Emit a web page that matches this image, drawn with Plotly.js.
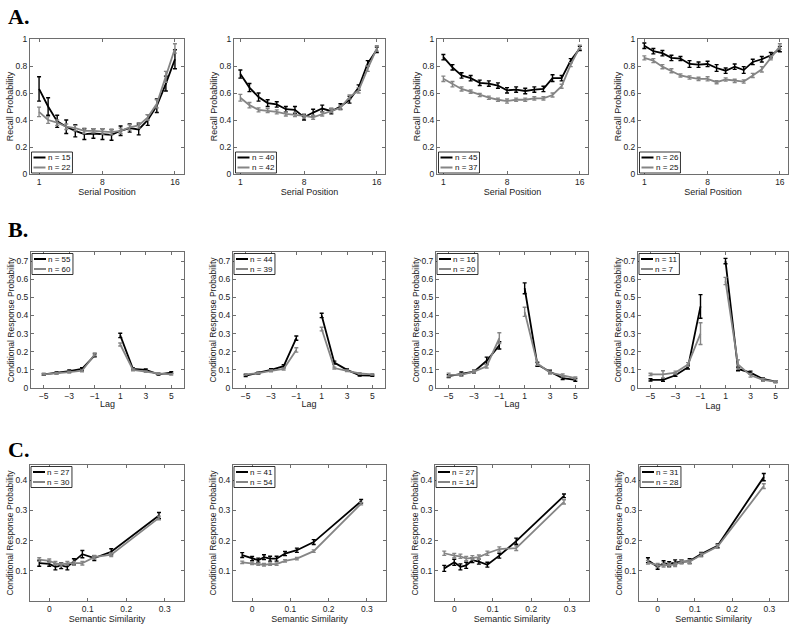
<!DOCTYPE html>
<html><head><meta charset="utf-8">
<script src="https://cdn.plot.ly/plotly-3.0.1.min.js"></script>
<style>html,body{margin:0;padding:0;background:#fff}#chart{width:800px;height:626px}</style>
</head><body><div id="chart"></div>
<script>
// ---------------- DATA ----------------
const serialPos = [1,2,3,4,5,6,7,8,9,10,11,12,13,14,15,16];
const lagVals = [-5,-4,-3,-2,-1,0,1,2,3,4,5];
const lagTickVals = [-5,-3,-1,1,3,5];
const lagTickText = ['\u22125','\u22123','\u22121','1','3','5'];
const semBins = [-0.026,0.0,0.016,0.031,0.047,0.064,0.086,0.117,0.161,0.285];

// Row A: serial position curves
const A1_black = [0.63,0.50,0.39,0.35,0.32,0.295,0.30,0.295,0.29,0.32,0.34,0.33,0.40,0.505,0.67,0.85];
const A1_blackErr = [0.09,0.065,0.045,0.05,0.045,0.04,0.035,0.04,0.04,0.035,0.03,0.04,0.04,0.05,0.055,0.07];
const A1_grey = [0.46,0.40,0.38,0.35,0.34,0.32,0.32,0.315,0.31,0.32,0.345,0.36,0.42,0.52,0.72,0.93];
const A1_greyErr = [0.035,0.025,0.02,0.02,0.02,0.02,0.015,0.02,0.02,0.02,0.02,0.02,0.02,0.03,0.04,0.035];

const A2_black = [0.74,0.64,0.57,0.525,0.515,0.48,0.475,0.42,0.455,0.485,0.465,0.50,0.55,0.64,0.82,0.92];
const A2_blackErr = [0.03,0.03,0.03,0.025,0.02,0.02,0.025,0.02,0.025,0.025,0.02,0.02,0.025,0.02,0.02,0.02];
const A2_grey = [0.565,0.51,0.475,0.47,0.46,0.445,0.44,0.43,0.42,0.445,0.47,0.49,0.57,0.62,0.78,0.93];
const A2_greyErr = [0.025,0.02,0.015,0.015,0.015,0.015,0.015,0.015,0.015,0.015,0.015,0.015,0.015,0.02,0.02,0.02];

const A3_black = [0.865,0.79,0.73,0.71,0.675,0.67,0.655,0.62,0.625,0.615,0.625,0.63,0.71,0.71,0.84,0.93];
const A3_blackErr = [0.02,0.02,0.02,0.02,0.02,0.02,0.02,0.02,0.02,0.02,0.02,0.02,0.025,0.02,0.015,0.015];
const A3_grey = [0.705,0.665,0.63,0.61,0.585,0.565,0.55,0.54,0.55,0.55,0.56,0.56,0.585,0.65,0.81,0.94];
const A3_greyErr = [0.02,0.02,0.015,0.012,0.012,0.012,0.012,0.015,0.012,0.012,0.012,0.012,0.015,0.015,0.015,0.015];

const A4_black = [0.95,0.91,0.895,0.86,0.855,0.815,0.81,0.815,0.785,0.765,0.795,0.77,0.83,0.85,0.88,0.925];
const A4_blackErr = [0.02,0.02,0.02,0.02,0.015,0.025,0.02,0.02,0.025,0.02,0.02,0.025,0.02,0.02,0.02,0.02];
const A4_grey = [0.86,0.84,0.795,0.765,0.73,0.715,0.705,0.705,0.68,0.70,0.69,0.685,0.73,0.775,0.86,0.945];
const A4_greyErr = [0.015,0.015,0.015,0.015,0.012,0.012,0.012,0.015,0.012,0.012,0.012,0.012,0.015,0.02,0.015,0.02];

// Row B: lag-CRP curves
const B1_black = [0.075,0.083,0.093,0.105,0.18,null,0.29,0.105,0.10,0.075,0.085];
const B1_blackErr = [0.005,0.005,0.006,0.007,0.008,null,0.012,0.006,0.005,0.004,0.005];
const B1_grey = [0.075,0.08,0.087,0.095,0.185,null,0.24,0.10,0.09,0.08,0.075];
const B1_greyErr = [0.004,0.004,0.005,0.005,0.008,null,0.008,0.005,0.004,0.004,0.004];

const B2_black = [0.068,0.082,0.10,0.12,0.275,null,0.40,0.14,0.10,0.07,0.068];
const B2_blackErr = [0.005,0.005,0.006,0.008,0.012,null,0.012,0.008,0.005,0.004,0.004];
const B2_grey = [0.075,0.082,0.095,0.105,0.21,null,0.325,0.11,0.095,0.08,0.075];
const B2_greyErr = [0.004,0.004,0.005,0.006,0.012,null,0.01,0.005,0.004,0.004,0.004];

const B3_black = [0.065,0.078,0.09,0.15,0.235,null,0.55,0.13,0.09,0.055,0.045];
const B3_blackErr = [0.008,0.01,0.008,0.02,0.02,null,0.03,0.01,0.008,0.008,0.008];
const B3_grey = [0.072,0.072,0.09,0.12,0.275,null,0.42,0.135,0.085,0.07,0.055];
const B3_greyErr = [0.01,0.008,0.008,0.01,0.03,null,0.025,0.01,0.008,0.008,0.006];

const B4_black = [0.045,0.045,0.07,0.115,0.45,null,0.70,0.105,0.085,0.05,0.035];
const B4_blackErr = [0.006,0.008,0.006,0.01,0.065,null,0.015,0.01,0.008,0.006,0.005];
const B4_grey = [0.075,0.075,0.085,0.13,0.30,null,0.59,0.13,0.07,0.045,0.035];
const B4_greyErr = [0.006,0.02,0.008,0.01,0.06,null,0.02,0.025,0.01,0.008,0.005];

// Row C: semantic-CRP curves
const C1_black = [0.125,0.123,0.113,0.117,0.113,0.13,0.155,0.142,0.163,0.283];
const C1_blackErr = [0.01,0.008,0.01,0.01,0.01,0.01,0.012,0.008,0.01,0.01];
const C1_grey = [0.137,0.133,0.125,0.12,0.125,0.125,0.125,0.145,0.153,0.275];
const C1_greyErr = [0.006,0.006,0.006,0.006,0.006,0.006,0.006,0.006,0.006,0.006];

const C2_black = [0.152,0.14,0.135,0.145,0.14,0.14,0.157,0.168,0.195,0.33];
const C2_blackErr = [0.008,0.007,0.007,0.008,0.008,0.008,0.007,0.007,0.008,0.006];
const C2_grey = [0.128,0.125,0.122,0.12,0.122,0.122,0.133,0.14,0.165,0.322];
const C2_greyErr = [0.004,0.004,0.004,0.004,0.004,0.004,0.004,0.004,0.004,0.004];

const C3_black = [0.108,0.128,0.113,0.118,0.135,0.13,0.12,0.15,0.198,0.348];
const C3_blackErr = [0.01,0.01,0.01,0.01,0.008,0.008,0.008,0.008,0.01,0.006];
const C3_grey = [0.158,0.15,0.148,0.14,0.143,0.145,0.158,0.172,0.175,0.328];
const C3_greyErr = [0.007,0.007,0.007,0.007,0.007,0.007,0.007,0.007,0.008,0.007];

const C4_black = [0.135,0.113,0.125,0.122,0.128,0.13,0.132,0.155,0.183,0.41];
const C4_blackErr = [0.008,0.008,0.008,0.008,0.008,0.006,0.008,0.006,0.006,0.012];
const C4_grey = [0.128,0.118,0.118,0.118,0.12,0.13,0.13,0.152,0.18,0.38];
const C4_greyErr = [0.006,0.006,0.006,0.006,0.006,0.006,0.006,0.006,0.006,0.008];

const nBlackA = ['n = 15','n = 40','n = 45','n = 26'];
const nGreyA  = ['n = 22','n = 42','n = 37','n = 25'];
const nBlackB = ['n = 55','n = 44','n = 16','n = 11'];
const nGreyB  = ['n = 60','n = 39','n = 20','n = 7'];
const nBlackC = ['n = 27','n = 41','n = 27','n = 31'];
const nGreyC  = ['n = 30','n = 54','n = 14','n = 28'];

const panelLabels = ['A.','B.','C.'];

// ---------------- LAYOUT GEOMETRY (pixels) ----------------
const W = 800, H = 626;
const colsA = [[30,184],[234,385],[437,588],[638,788]];
const colsB = [[31,184],[233,385],[436,588],[638,788]];
const colsC = [[30,184],[233,386],[435,589],[639,788]];
const rowsY = [[39,174],[252,388],[465,601]];

const BLACK = '#000000', GREY = '#858585';
const FONT = 'Liberation Sans, Arial, sans-serif';
const LEG_FONT = 8;

const rows = [
  {x: serialPos, cols: colsA,
   sets: [[A1_black,A1_blackErr,A1_grey,A1_greyErr],[A2_black,A2_blackErr,A2_grey,A2_greyErr],[A3_black,A3_blackErr,A3_grey,A3_greyErr],[A4_black,A4_blackErr,A4_grey,A4_greyErr]],
   nb: nBlackA, ng: nGreyA},
  {x: lagVals, cols: colsB,
   sets: [[B1_black,B1_blackErr,B1_grey,B1_greyErr],[B2_black,B2_blackErr,B2_grey,B2_greyErr],[B3_black,B3_blackErr,B3_grey,B3_greyErr],[B4_black,B4_blackErr,B4_grey,B4_greyErr]],
   nb: nBlackB, ng: nGreyB},
  {x: semBins, cols: colsC,
   sets: [[C1_black,C1_blackErr,C1_grey,C1_greyErr],[C2_black,C2_blackErr,C2_grey,C2_greyErr],[C3_black,C3_blackErr,C3_grey,C3_greyErr],[C4_black,C4_blackErr,C4_grey,C4_greyErr]],
   nb: nBlackC, ng: nGreyC}
];

const ctx = document.createElement('canvas').getContext('2d');
ctx.font = LEG_FONT + 'px "Liberation Sans"';
const textW = s => ctx.measureText(s).width;
const px = v => v / W;          // x pixel -> paper
const py = v => 1 - v / H;      // y pixel -> paper

const traces = [];
const shapes = [];
const annotations = [];
const layout = {
  width: W, height: H, margin: {l:0,r:0,t:0,b:0},
  paper_bgcolor: '#fff', plot_bgcolor: '#fff',
  font: {family: FONT, size: 9, color: '#222'},
  showlegend: false
};

const axBase = {
  showline: true, mirror: 'ticks', linecolor: '#6e6e6e', linewidth: 1,
  ticks: 'inside', ticklen: 3, tickwidth: 1, tickcolor: '#6e6e6e',
  showgrid: false, zeroline: false, automargin: false,
  tickfont: {family: FONT, size: 8.5, color: '#222'}
};
const titleFont = {family: FONT, size: 9, color: '#222'};

function addLegend(left, top, labels) {
  const w = 15.5 + Math.max(textW(labels[0]), textW(labels[1])) + 3;
  const h = 21;
  shapes.push({type: 'rect', xref: 'paper', yref: 'paper', x0: px(left), x1: px(left + w), y0: py(top), y1: py(top + h),
    fillcolor: '#fff', line: {color: '#000', width: 0.8}, layer: 'above'});
  [[labels[0], BLACK, top + 5.5], [labels[1], GREY, top + 15.5]].forEach(([lab, col, yy]) => {
    shapes.push({type: 'line', xref: 'paper', yref: 'paper', x0: px(left + 2), x1: px(left + 14), y0: py(yy), y1: py(yy),
      line: {color: col, width: 2}, layer: 'above'});
    annotations.push({text: lab, xref: 'paper', yref: 'paper', x: px(left + 15), y: py(yy), xanchor: 'left', yanchor: 'middle',
      showarrow: false, borderpad: 0, font: {family: FONT, size: LEG_FONT, color: '#111'}});
  });
}

let k = 0;
rows.forEach((row, r) => {
  row.sets.forEach((set, c) => {
    k++;
    const xs = k === 1 ? '' : String(k);
    const xa = 'x' + xs, ya = 'y' + xs;
    const [bl, ble, gr, gre] = set;
    traces.push({
      x: row.x, y: bl, type: 'scatter', mode: 'lines', name: row.nb[c],
      xaxis: xa, yaxis: ya, connectgaps: false,
      line: {color: BLACK, width: 1.8},
      error_y: {type: 'data', array: ble, visible: true, color: BLACK, thickness: 1.4, width: 2}
    });
    traces.push({
      x: row.x, y: gr, type: 'scatter', mode: 'lines', name: row.ng[c],
      xaxis: xa, yaxis: ya, connectgaps: false,
      line: {color: GREY, width: 1.8},
      error_y: {type: 'data', array: gre, visible: true, color: GREY, thickness: 1.4, width: 2}
    });
    const colPx = row.cols[c], rowPx = rowsY[r];
    const xdom = [px(colPx[0]), px(colPx[1])];
    const ydom = [py(rowPx[1]), py(rowPx[0])];
    const xaxis = Object.assign({}, axBase, {domain: xdom, anchor: ya});
    const yaxis = Object.assign({}, axBase, {domain: ydom, anchor: xa});
    if (r === 0) {
      Object.assign(xaxis, {range: c === 0 ? [0,17] : [0.3,16.9], tickvals: [1,8,16],
        title: {text: 'Serial Position', font: titleFont, standoff: 0}});
      Object.assign(yaxis, {range: [0,1], tickvals: [0,0.2,0.4,0.6,0.8,1], ticktext: ['0','0.2','0.4','0.6','0.8','1'],
        title: {text: 'Recall Probability', font: titleFont, standoff: 0}});
    } else if (r === 1) {
      Object.assign(xaxis, {range: [-6,6], tickvals: lagTickVals, ticktext: lagTickText,
        title: {text: 'Lag', font: titleFont, standoff: 0}});
      Object.assign(yaxis, {range: [0,0.75], tickvals: [0,0.1,0.2,0.3,0.4,0.5,0.6,0.7], ticktext: ['0','0.1','0.2','0.3','0.4','0.5','0.6','0.7'],
        title: {text: 'Conditional Response Probability', font: {family: FONT, size: 8.5, color: '#222'}, standoff: 0}});
    } else {
      Object.assign(xaxis, {range: [-0.05,0.35], tickvals: [0,0.1,0.2,0.3], ticktext: ['0','0.1','0.2','0.3'],
        title: {text: 'Semantic Similarity', font: titleFont, standoff: 0}});
      Object.assign(yaxis, {range: [0,0.45], tickvals: [0.1,0.2,0.3,0.4], ticktext: ['0.1','0.2','0.3','0.4'],
        title: {text: 'Conditional Response Probability', font: {family: FONT, size: 8.5, color: '#222'}, standoff: 0}});
    }
    layout['xaxis' + xs] = xaxis;
    layout['yaxis' + xs] = yaxis;
    if (r === 0) addLegend(colPx[0] + 1.5, rowPx[1] - 22, [row.nb[c], row.ng[c]]);
    else addLegend(colPx[0] + 1, rowPx[0] + 1.5, [row.nb[c], row.ng[c]]);
  });
  annotations.push({
    text: '<b>' + panelLabels[r] + '</b>', xref: 'paper', yref: 'paper',
    x: px(6), y: py([16,229,449][r]), xanchor: 'left', yanchor: 'middle', showarrow: false,
    font: {family: 'Liberation Serif, DejaVu Serif, serif', size: 22, color: '#000'}
  });
});
layout.shapes = shapes;
layout.annotations = annotations;

Plotly.newPlot('chart', traces, layout, {staticPlot: true, displayModeBar: false});
</script></body></html>
